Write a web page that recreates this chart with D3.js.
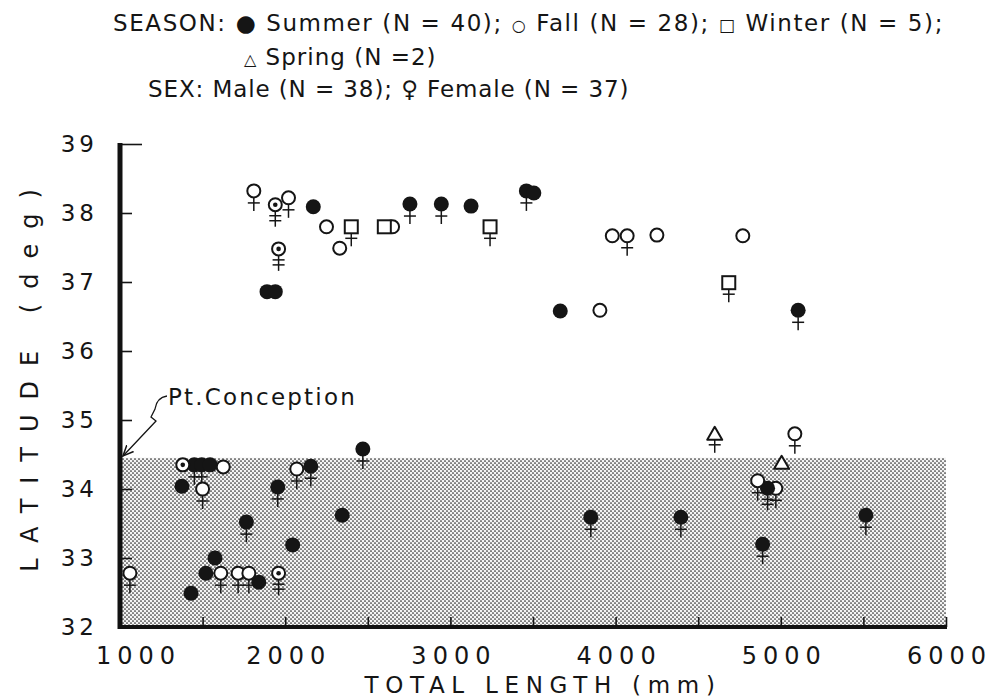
<!DOCTYPE html>
<html>
<head>
<meta charset="utf-8">
<script src="https://cdn.jsdelivr.net/npm/d3@7/dist/d3.min.js"></script>
<style>
    body { margin: 0; background: #fff; }
    text { font-family: "DejaVu Sans", sans-serif; fill: #151515; }
</style>
</head>
<body>
<svg id="chart"></svg>
<script>
// one entry per fish: total length (mm), latitude (deg), season, female marks (0 = male)
const lengths = [
    1060, 1430, 1520, 1575, 1610, 1840, 1715, 1780, 1960, 2045, 1765, 2345,
    1375, 1450, 1495, 1545, 1380, 1625, 1500, 1955, 2155, 2070, 2470,
    3850, 4395, 4890, 5515, 4600, 5085, 5005, 4970, 4920, 4860,
    1810, 1940, 2020, 2170, 2250, 2330, 2400, 1960, 1890, 1940, 2650, 2600,
    2755, 2945, 3125, 3240, 3460, 3505, 3980, 4070, 4250, 3665, 3905, 4770, 4685, 5105
];
const latitudes = [
    32.78, 32.49, 32.78, 33.00, 32.78, 32.65, 32.78, 32.78, 32.78, 33.19, 33.52, 33.62,
    34.04, 34.35, 34.35, 34.35, 34.35, 34.32, 34.00, 34.03, 34.33, 34.29, 34.58,
    33.59, 33.59, 33.20, 33.62, 34.80, 34.80, 34.38, 34.01, 34.01, 34.12,
    38.32, 38.12, 38.22, 38.09, 37.80, 37.49, 37.80, 37.48, 36.86, 36.86, 37.80, 37.80,
    38.13, 38.13, 38.10, 37.80, 38.32, 38.29, 37.67, 37.67, 37.68, 36.58, 36.59, 37.67, 36.99, 36.59
];
const seasons = [
    "fall", "summer", "summer", "summer", "fall", "summer", "fall", "fall", "dot", "summer", "summer", "summer",
    "summer", "summer", "summer", "summer", "dot", "fall", "fall", "summer", "summer", "fall", "summer",
    "summer", "summer", "summer", "summer", "spring", "fall", "spring", "fall", "summer", "fall",
    "fall", "dot", "fall", "summer", "fall", "fall", "winter", "dot", "summer", "summer", "fall", "winter",
    "summer", "summer", "summer", "winter", "summer", "summer", "fall", "fall", "fall", "summer", "fall", "fall", "winter", "summer"
];
const femaleMarks = [
    1, 0, 0, 0, 1, 0, 1, 1, 2, 0, 1, 0,
    0, 1, 1, 0, 0, 0, 1, 1, 1, 1, 1,
    1, 1, 1, 1, 1, 1, 0, 1, 2, 1,
    1, 2, 1, 0, 0, 0, 1, 2, 0, 0, 0, 0,
    1, 1, 0, 1, 1, 0, 0, 1, 0, 0, 0, 0, 1, 1
];

const xTicks = [1000, 1500, 2000, 2500, 3000, 3500, 4000, 4500, 5000, 5500, 6000];
const yTicks = [32, 33, 34, 35, 36, 37, 38, 39];
const conceptionLat = 34.45;

const width = 1006, height = 700;
const svg = d3.select("#chart").attr("width", width).attr("height", height);

const x = d3.scaleLinear().domain([1000, 6000]).range([120, 946]);
const y = d3.scaleLinear().domain([32, 39]).range([627, 144]);

// halftone screen south of Pt. Conception
const pat = svg.append("defs").append("pattern")
    .attr("id", "screen")
    .attr("patternUnits", "userSpaceOnUse")
    .attr("width", 4).attr("height", 4);
pat.append("rect").attr("width", 4).attr("height", 4).attr("fill", "#f4f4f4");
pat.append("circle").attr("cx", 1).attr("cy", 1).attr("r", 0.85).attr("fill", "#262626");
pat.append("circle").attr("cx", 3).attr("cy", 3).attr("r", 0.85).attr("fill", "#262626");

svg.append("rect")
    .attr("x", x(1000))
    .attr("y", y(conceptionLat))
    .attr("width", x(6000) - x(1000))
    .attr("height", y(32) - y(conceptionLat))
    .attr("fill", "url(#screen)");

// axes
const xAxis = svg.append("g")
    .attr("transform", `translate(0,${y(32)})`)
    .call(d3.axisBottom(x).tickValues(xTicks).tickSize(-10).tickPadding(20)
        .tickFormat(d => d % 1000 === 0 ? d : ""));
xAxis.select(".domain").remove();
xAxis.selectAll("line").attr("stroke", "#151515").attr("stroke-width", 1.6);
xAxis.selectAll("text")
    .attr("fill", "#151515")
    .style("font-size", "24px")
    .style("letter-spacing", "6px")
    .attr("dx", d => d === 1000 ? 18 : 3);

const yAxis = svg.append("g")
    .attr("transform", `translate(${x(1000)},0)`)
    .call(d3.axisLeft(y).tickValues(yTicks).tickSize(-10).tickPadding(22)
        .tickFormat(d3.format("d")));
yAxis.select(".domain").remove();
yAxis.selectAll("line")
    .attr("stroke", "#151515").attr("stroke-width", 1.6)
    .attr("x2", d => d === 39 ? 22 : 12);
yAxis.selectAll("text")
    .attr("fill", "#151515")
    .style("font-size", "23px")
    .style("letter-spacing", "4px");

svg.append("line")
    .attr("x1", x(1000)).attr("x2", x(1000))
    .attr("y1", y(39) - 1).attr("y2", y(32) + 2)
    .attr("stroke", "#111").attr("stroke-width", 5);
svg.append("line")
    .attr("x1", x(1000) - 2).attr("x2", x(6000) + 1)
    .attr("y1", y(32)).attr("y2", y(32))
    .attr("stroke", "#111").attr("stroke-width", 4);

// axis titles
svg.append("text")
    .attr("x", 543).attr("y", 693)
    .attr("text-anchor", "middle")
    .style("font-size", "23px")
    .style("letter-spacing", "6.7px")
    .text("TOTAL LENGTH (mm)");

svg.append("text")
    .attr("transform", "translate(38,373) rotate(-90)")
    .attr("text-anchor", "middle")
    .style("font-size", "24px")
    .style("letter-spacing", "15px")
    .text("LATITUDE (deg)");

// Pt. Conception label with leader arrow
svg.append("text")
    .attr("x", 168).attr("y", 405)
    .style("font-size", "23px")
    .style("letter-spacing", "2.2px")
    .text("Pt.Conception");

svg.append("defs").append("marker")
    .attr("id", "arrow")
    .attr("viewBox", "0 0 10 10")
    .attr("refX", 9).attr("refY", 5)
    .attr("markerWidth", 9).attr("markerHeight", 9)
    .attr("orient", "auto")
    .append("path")
    .attr("d", "M0,1 L9,5 L0,9")
    .attr("fill", "none").attr("stroke", "#151515").attr("stroke-width", 1.3);

svg.append("path")
    .attr("d", `M167,396 C160,397 156,402 155,409 L151,417 L156,421 L${x(1000) + 3},${y(conceptionLat) - 2}`)
    .attr("fill", "none")
    .attr("stroke", "#151515")
    .attr("stroke-width", 1.3)
    .attr("marker-end", "url(#arrow)");

// legend text at top
const legendLines = [
    {x: 113, y: 31, spacing: 1.6, parts: [["SEASON: ", 23], ["\u25CF", 23], [" Summer (N = 40); ", 23], ["\u25CB", 16], [" Fall (N = 28); ", 23], ["\u25A1", 17], [" Winter (N = 5);", 23]]},
    {x: 244, y: 65, spacing: 1, parts: [["\u25B3", 16], [" Spring (N =2)", 23]]},
    {x: 148, y: 97, spacing: 0.9, parts: [["SEX: Male (N = 38); ", 23], ["\u2640", 23], [" Female (N = 37)", 23]]}
];
legendLines.forEach(line => {
    const t = svg.append("text")
        .attr("x", line.x).attr("y", line.y)
        .style("letter-spacing", line.spacing + "px");
    line.parts.forEach(([s, size]) => {
        t.append("tspan").style("font-size", size + "px").text(s);
    });
});

// fish markers
const points = lengths.map((len, i) => ({
    len: len, lat: latitudes[i], season: seasons[i], marks: femaleMarks[i]
}));

const r = 7;
const ink = "#151515";

const marks = svg.append("g").selectAll("g")
    .data(points)
    .enter().append("g")
    .attr("transform", d => `translate(${x(d.len)},${y(d.lat)})`);

marks.each(function (d) {
    const g = d3.select(this);
    const bottom = d.season === "winter" ? 6.5 : d.season === "spring" ? 6 : r;
    if (d.marks > 0) {
        const stemEnd = bottom + (d.marks === 2 ? 15 : 13);
        g.append("line")
            .attr("x1", 0).attr("x2", 0)
            .attr("y1", bottom).attr("y2", stemEnd)
            .attr("stroke", ink).attr("stroke-width", 1.5);
        const bars = d.marks === 2 ? [bottom + 4, bottom + 9] : [bottom + 5];
        bars.forEach(b => g.append("line")
            .attr("x1", -6).attr("x2", 6)
            .attr("y1", b).attr("y2", b)
            .attr("stroke", ink).attr("stroke-width", 1.5));
    }
    if (d.season === "summer") {
        g.append("circle").attr("r", r + 0.5).attr("fill", ink);
    } else if (d.season === "fall" || d.season === "dot") {
        g.append("circle").attr("r", r - 0.5)
            .attr("fill", "#fff").attr("stroke", ink).attr("stroke-width", 2);
        if (d.season === "dot") {
            g.append("circle").attr("r", 2.3).attr("fill", ink);
        }
    } else if (d.season === "winter") {
        g.append("rect")
            .attr("x", -6.5).attr("y", -6.5).attr("width", 13).attr("height", 13)
            .attr("fill", "#fff").attr("stroke", ink).attr("stroke-width", 2);
    } else if (d.season === "spring") {
        g.append("path")
            .attr("d", "M0,-7 L7.5,6 L-7.5,6 Z")
            .attr("fill", "#fff").attr("stroke", ink).attr("stroke-width", 2)
            .attr("stroke-linejoin", "round");
    }
});
</script>
</body>
</html>
